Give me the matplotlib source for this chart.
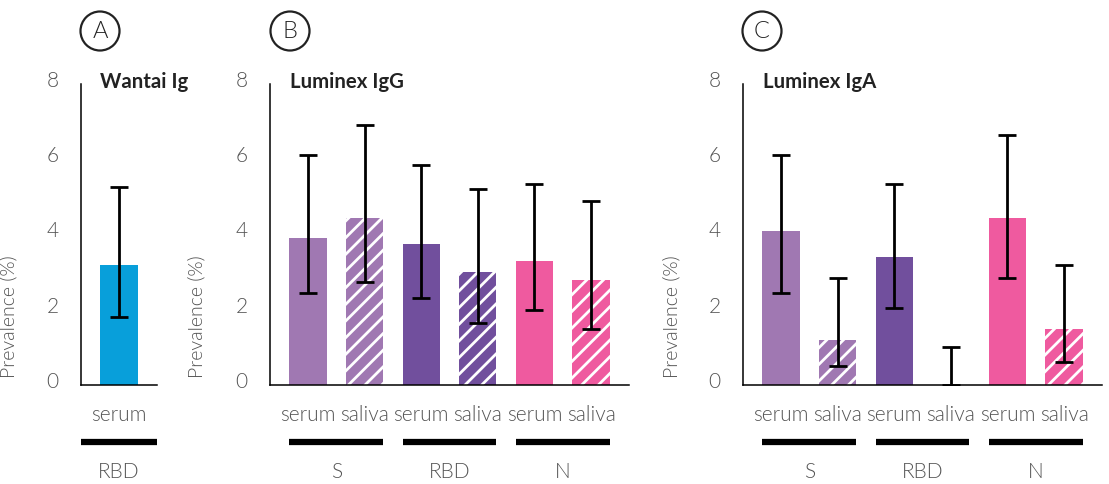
import numpy as np
import matplotlib
matplotlib.use("Agg")
import matplotlib.pyplot as plt
from matplotlib.patches import Circle
from matplotlib.transforms import ScaledTranslation

plt.rcParams['font.family'] = ['Lato', 'DejaVu Sans']
plt.rcParams['hatch.linewidth'] = 2.0

# === Data ===
a_labels = ["serum"]
a_groups = ["RBD"]
a_vals = [3.2]
a_lo = [1.8]
a_hi = [5.25]

bc_labels = ["serum", "saliva", "serum", "saliva", "serum", "saliva"]
bc_groups = ["S", "RBD", "N"]

igg_vals = [3.9, 4.45, 3.75, 3.0, 3.3, 2.8]
igg_lo = [2.45, 2.75, 2.3, 1.65, 2.0, 1.5]
igg_hi = [6.1, 6.9, 5.85, 5.2, 5.35, 4.9]

iga_vals = [4.1, 1.2, 3.4, 0.0, 4.45, 1.5]
iga_lo = [2.45, 0.5, 2.05, 0.0, 2.85, 0.6]
iga_hi = [6.1, 2.85, 5.35, 1.0, 6.65, 3.2]

# colours
c_blue = "#089FDA"
c_lpurple = "#A078B2"
c_dpurple = "#714F9D"
c_pink = "#EF5A9F"
bc_colors = [c_lpurple, c_lpurple, c_dpurple, c_dpurple, c_pink, c_pink]
bc_hatch = [None, "//", None, "//", None, "//"]

W, H = 1109, 485
fig = plt.figure(figsize=(W / 100, H / 100), dpi=100)
txt_col = "#555555"
LIGHT = 300

def px_axes(left, right, top=85, bottom=386):
    return fig.add_axes([left / W, 1 - bottom / H, (right - left) / W, (bottom - top) / H])

def draw_panel(ax, vals, lo, hi, labels, groups, colors, hatches, title):
    x = np.arange(len(vals))
    for i in range(len(vals)):
        ax.bar(x[i], vals[i], width=0.66, color=colors[i],
               hatch=hatches[i], edgecolor="white" if hatches[i] else colors[i],
               linewidth=0, zorder=2)
    err = [np.array(vals) - np.array(lo), np.array(hi) - np.array(vals)]
    ax.errorbar(x, vals, yerr=err, fmt="none", ecolor="black", elinewidth=2,
                capsize=6.5, capthick=2, zorder=3)
    ax.set_xlim(-0.67, len(vals) - 0.33)
    ax.set_ylim(0, 8)
    ax.set_yticks([0, 2, 4, 6, 8])
    ax.set_xticks(x)
    ax.set_xticklabels(labels)
    ax.tick_params(axis="both", length=0, labelsize=15, labelcolor=txt_col)
    ax.tick_params(axis="y", pad=16)
    ax.tick_params(axis="x", pad=14)
    shift = ScaledTranslation(0, 0.06, fig.dpi_scale_trans)
    for lab in ax.get_yticklabels():
        lab.set_fontweight(LIGHT)
        lab.set_transform(lab.get_transform() + shift)
    for lab in ax.get_xticklabels():
        lab.set_fontweight(LIGHT)
    for s in ["top", "right"]:
        ax.spines[s].set_visible(False)
    ax.spines["left"].set_linewidth(1.1)
    ax.spines["bottom"].set_linewidth(1.1)
    ax.set_ylabel("Prevalence (%)", fontsize=14, color=txt_col, fontweight=LIGHT)
    ax.text(0.25 if len(vals) == 1 else 0.055, 1.01, title, transform=ax.transAxes,
            fontsize=14.7, fontweight="bold", color="#222222", va="center", ha="left")
    # group lines and labels
    trans = ax.get_xaxis_transform()
    n_per = len(vals) // len(groups)
    ext = 0.67 if n_per == 1 else 0.33
    for g, name in enumerate(groups):
        x0 = x[g * n_per] - ext
        x1 = x[g * n_per + n_per - 1] + ext
        ax.plot([x0, x1], [-0.189, -0.189], transform=trans, color="black",
                lw=4.5, solid_capstyle="butt", clip_on=False)
        ax.text((x0 + x1) / 2, -0.285, name, transform=trans, ha="center", va="center",
                fontsize=15, color=txt_col, fontweight=LIGHT)

axA = px_axes(81, 157)
draw_panel(axA, a_vals, a_lo, a_hi, a_labels, a_groups, [c_blue], [None], "Wantai Ig")
axB = px_axes(270, 629)
draw_panel(axB, igg_vals, igg_lo, igg_hi, bc_labels, bc_groups, bc_colors, bc_hatch, "Luminex IgG")
axC = px_axes(743, 1102)
draw_panel(axC, iga_vals, iga_lo, iga_hi, bc_labels, bc_groups, bc_colors, bc_hatch, "Luminex IgA")

# ylabel positions in pixels
for ax, xl in [(axA, 17), (axB, 205), (axC, 680)]:
    pos = ax.get_position()
    ax.yaxis.set_label_coords((xl / W - pos.x0) / pos.width, 0.23)

# panel letters
for letter, cx in [("A", 100), ("B", 290), ("C", 762)]:
    fig.patches.append(Circle((cx / 100, (H - 32) / 100), 0.195, transform=fig.dpi_scale_trans,
                              fill=False, edgecolor="#222222", linewidth=1.6))
    fig.text(cx / W, 1 - 32 / H, letter, ha="center", va="center", fontsize=17,
             fontweight=LIGHT, color="#222222")

fig.savefig("out.png", dpi=100)
